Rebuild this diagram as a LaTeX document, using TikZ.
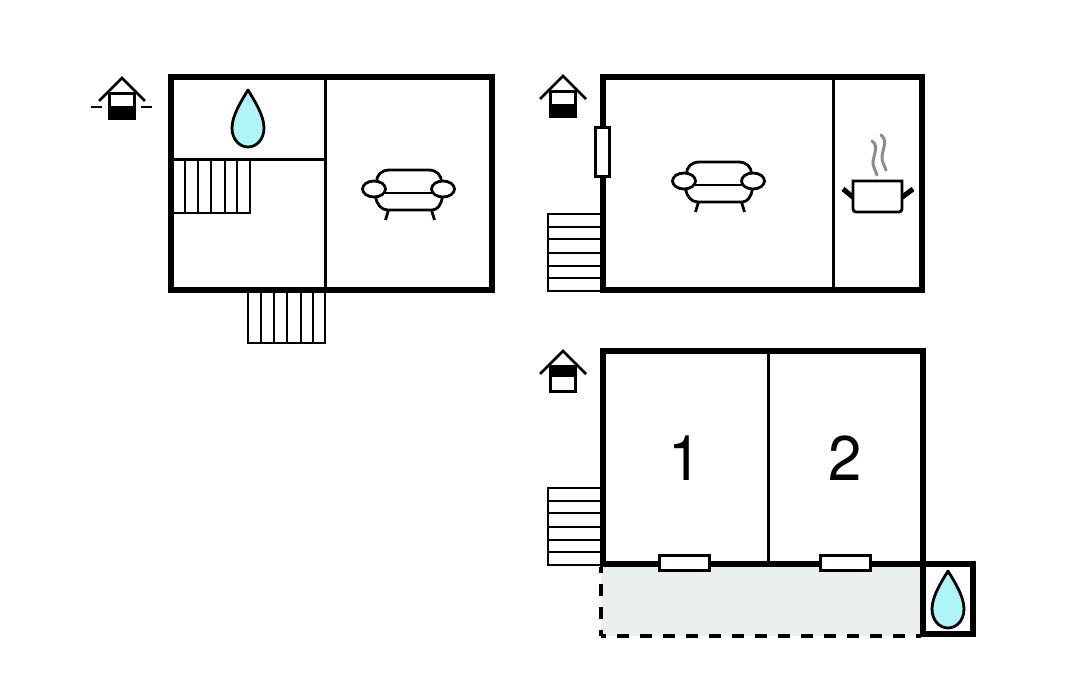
\documentclass[tikz,border=0pt]{standalone}
\usepackage{fontspec}
\setmainfont{TeX Gyre Heros}

\definecolor{dropblue}{HTML}{AFF5F8}
\definecolor{terrace}{HTML}{E8EFEE}
\definecolor{steam}{HTML}{8C8C8C}

\tikzset{
  wall/.style = {line width = 6pt, line cap = rect},
  partition/.style = {line width = 3pt},
  tread/.style = {line width = 2.6pt},
  symbolline/.style = {line width = 2.8pt},
  windowbox/.style = {draw, line width = 3pt, fill = white},
  terraceline/.style = {line width = 3.5pt, dash pattern = on 12pt off 11pt},
  roomlabel/.style = {font = \fontsize{63}{63}\selectfont, xscale = 0.95},
  pics/drop/.style = {code = {
    \draw[symbolline, fill = dropblue, line join = round]
      (0, 0) .. controls (6, 10) and (16, 25) .. (16, 38)
      .. controls (16, 50) and (8, 57) .. (0, 57)
      .. controls (-8, 57) and (-16, 50) .. (-16, 38)
      .. controls (-16, 25) and (-6, 10) .. (0, 0) -- cycle;
  }},
  pics/sofa/.style = {code = {
    \draw[symbolline]
      (-32, -7) .. controls (-32, -14) and (-27, -19) .. (-19, -19)
      -- (20, -19) .. controls (28, -19) and (33, -14) .. (33, -7);
    \draw[symbolline] (-24, 4) -- (24, 4);
    \draw[symbolline]
      (-33, 8) .. controls (-32, 15) and (-27, 21) .. (-21, 21)
      -- (24, 21) .. controls (29, 21) and (33, 15) .. (34, 8);
    \draw[symbolline] (-20, 21) -- (-23, 31);
    \draw[symbolline] (23, 21) -- (26, 31);
    \draw[symbolline] (-34.5, 0) ellipse (11.5 and 8);
    \draw[symbolline] (34.5, 0) ellipse (11.5 and 8);
  }},
  pics/levelicon/.style 2 args = {code = {
    \draw[symbolline] (-23, 23) -- (0, 0) -- (23, 23);
    \fill (-12.5, #1) rectangle (12.5, #2);
    \draw[symbolline] (-12.5, 15.5) rectangle (12.5, 40.5);
  }},
}

\begin{document}
\begin{tikzpicture}[x = 1pt, y = -1pt]
  \useasboundingbox (0, 0) rectangle (1080, 700);

  % upper left floor
  \foreach \xpos in {173, 185, 198, 211, 225, 237, 250}
    \draw[tread] (\xpos, 160) -- (\xpos, 213);
  \draw[tread] (173, 213) -- (251, 213);
  \foreach \xpos in {248, 261, 274, 287, 301, 313, 325}
    \draw[tread] (\xpos, 290) -- (\xpos, 343);
  \draw[tread] (247, 343) -- (326, 343);
  \draw[partition] (325, 77) -- (325, 290);
  \draw[partition] (171, 160) -- (325, 160);
  \draw[wall] (171, 77) rectangle (492, 290);
  \pic at (248, 90) {drop};
  \pic at (408.5, 189) {sofa};
  \pic at (122, 78) {levelicon = {28}{40.5}};
  \draw[symbolline] (91, 107) -- (102, 107);
  \draw[symbolline] (141, 107) -- (152, 107);

  % upper right floor
  \foreach \ypos in {214, 227, 239, 253, 266, 278, 291}
    \draw[tread] (547, \ypos) -- (603, \ypos);
  \draw[tread] (548, 214) -- (548, 291);
  \draw[partition] (833, 77) -- (833, 290);
  \draw[wall] (603, 77) rectangle (922, 290);
  \draw[windowbox] (595, 128) rectangle (609, 177);
  \pic at (718.5, 181) {sofa};
  \pic at (563, 76) {levelicon = {28}{40.5}};

  % pot
  \draw[line width = 5pt] (854, 198) -- (843, 189);
  \draw[line width = 5pt] (901, 198) -- (913, 189);
  \draw[symbolline, fill = white]
    (853, 181) [rounded corners = 3pt] -- (853, 212) -- (902, 212)
    [sharp corners] -- (902, 181) -- cycle;
  \draw[steam, line width = 3pt, line cap = round]
    (872, 141) .. controls (880, 146) and (872, 158) .. (873, 164)
    .. controls (874, 169) and (876, 171) .. (877, 175);
  \draw[steam, line width = 3pt, line cap = round]
    (881, 135) .. controls (889, 141) and (881, 152) .. (882, 159)
    .. controls (883, 164) and (885, 166) .. (886, 170);

  % lower floor
  \fill[terrace] (601, 564) rectangle (921, 636);
  \foreach \ypos in {488, 501, 513, 527, 540, 552, 565}
    \draw[tread] (547, \ypos) -- (603, \ypos);
  \draw[tread] (548, 488) -- (548, 565);
  \draw[partition] (768, 351) -- (768, 564);
  \draw[wall] (603, 351) rectangle (923, 564);
  \draw[wall] (923, 564) rectangle (973, 634);
  \draw[terraceline, dash phase = 7pt] (601, 636) -- (921, 636);
  \draw[terraceline, dash phase = 6pt] (601, 636) -- (601, 567);
  \draw[windowbox] (659, 556) rectangle (709, 571);
  \draw[windowbox] (820, 556) rectangle (870, 571);
  \pic at (948, 571) {drop};
  \pic at (563, 351) {levelicon = {15.5}{26}};
  \node[roomlabel] (roomone) at (685.5, 458) {1};
  \node[roomlabel] (roomtwo) at (845.5, 458) {2};

\end{tikzpicture}
\end{document}
